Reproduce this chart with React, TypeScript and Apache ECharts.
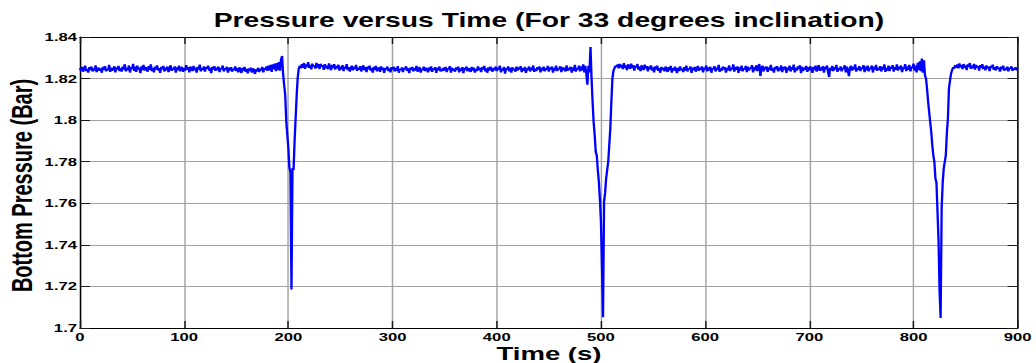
import React, { useEffect, useRef } from "react";
import * as echarts from "echarts";

// ---------------- data (pressure in bar, one sample per second) ----------------
const xTicks = [0, 100, 200, 300, 400, 500, 600, 700, 800, 900];
const yTicks = [1.7, 1.72, 1.74, 1.76, 1.78, 1.8, 1.82, 1.84];

// start time (s) of each recorded segment below
const segmentStarts = [0, 190, 212, 487, 517, 806, 843];

const baseline0to189 = [
  1.8251, 1.8238, 1.8256, 1.8233, 1.8249, 1.8262, 1.8236, 1.8247, 1.8229, 1.8255,
  1.8241, 1.8258, 1.8234, 1.825, 1.8239, 1.8264, 1.8231, 1.8246, 1.8253, 1.8237,
  1.8249, 1.8228, 1.8257, 1.8242, 1.826, 1.8235, 1.8248, 1.824, 1.8266, 1.8232,
  1.8252, 1.8238, 1.8245, 1.8259, 1.823, 1.8254, 1.8243, 1.8261, 1.8236, 1.825,
  1.8233, 1.8257, 1.8244, 1.8269, 1.8235, 1.8251, 1.824, 1.8263, 1.8229, 1.8255,
  1.8246, 1.8271, 1.8237, 1.8258, 1.8232, 1.8262, 1.8244, 1.8253, 1.8226, 1.8259,
  1.8241, 1.8266, 1.8238, 1.8255, 1.8247, 1.8233, 1.826, 1.8242, 1.8268, 1.8236,
  1.8252, 1.823, 1.8257, 1.8244, 1.8263, 1.8239, 1.825, 1.8227, 1.8256, 1.8245,
  1.8261, 1.8234, 1.8253, 1.824, 1.8258, 1.8231, 1.8249, 1.8264, 1.8237, 1.8251,
  1.8243, 1.8259, 1.8228, 1.8254, 1.8241, 1.8262, 1.8235, 1.8248, 1.8256, 1.8232,
  1.825, 1.8238, 1.8265, 1.8242, 1.8255, 1.823, 1.8258, 1.8246, 1.8236, 1.8261,
  1.824, 1.8253, 1.8229, 1.8257, 1.8244, 1.8267, 1.8235, 1.825, 1.8241, 1.8259,
  1.8233, 1.8255, 1.8247, 1.8262, 1.8238, 1.8251, 1.8226, 1.8256, 1.8243, 1.826,
  1.8237, 1.8252, 1.824, 1.8258, 1.8231, 1.8249, 1.8245, 1.8263, 1.8234, 1.825,
  1.8242, 1.8257, 1.8228, 1.8253, 1.8239, 1.8255, 1.8233, 1.8248, 1.8241, 1.8259,
  1.8236, 1.825, 1.823, 1.8254, 1.8243, 1.8227, 1.8251, 1.8238, 1.8256, 1.8232,
  1.8247, 1.8225, 1.8249, 1.8236, 1.8253, 1.8229, 1.8249, 1.824, 1.8222, 1.8246,
  1.8234, 1.8252, 1.8231, 1.8248, 1.8239, 1.8256, 1.823, 1.825, 1.8243, 1.8259,
  1.8237, 1.8262, 1.824, 1.8266, 1.8232, 1.8268, 1.8245, 1.8272, 1.8236, 1.8275,
];

const dip1 = [
  1.8241, 1.828, 1.8238, 1.8292, 1.8309, 1.822, 1.8168, 1.812, 1.7995, 1.793,
  1.7866, 1.7772, 1.775, 1.7185, 1.777, 1.776, 1.79, 1.801, 1.812, 1.8205,
  1.8248, 1.8262,
];

const baseline212to486 = [
  1.8249, 1.827, 1.8252, 1.8275, 1.8247, 1.8268, 1.8255, 1.8279,
  1.8251, 1.8266, 1.8244, 1.8272, 1.8257, 1.8263, 1.8248, 1.8276, 1.8253, 1.8269,
  1.8246, 1.8271, 1.8258, 1.8264, 1.8242, 1.827, 1.825, 1.8262, 1.8245, 1.8273,
  1.8256, 1.824, 1.8266, 1.8251, 1.8269, 1.8243, 1.8261, 1.8249, 1.8267, 1.8238,
  1.8258, 1.8244, 1.8265, 1.8236, 1.8257, 1.8248, 1.827, 1.8241, 1.8255, 1.8233,
  1.8252, 1.8262, 1.8239, 1.8256, 1.8246, 1.8266, 1.8237, 1.8253, 1.8243, 1.826,
  1.8234, 1.8251, 1.8264, 1.824, 1.8255, 1.8231, 1.8258, 1.8245, 1.8262, 1.8238,
  1.825, 1.8229, 1.8256, 1.8242, 1.8261, 1.8235, 1.8248, 1.8254, 1.8232, 1.8259,
  1.8241, 1.8253, 1.8227, 1.825, 1.8244, 1.8258, 1.8236, 1.8249, 1.823, 1.8255,
  1.8243, 1.8257, 1.8234, 1.8251, 1.8238, 1.826, 1.8228, 1.8247, 1.824, 1.8254,
  1.8231, 1.8252, 1.8245, 1.8259, 1.8237, 1.8249, 1.8226, 1.8253, 1.8242, 1.8256,
  1.8235, 1.825, 1.8239, 1.8261, 1.8233, 1.8246, 1.8255, 1.8229, 1.8248, 1.8241,
  1.8257, 1.8236, 1.8252, 1.8244, 1.823, 1.8254, 1.8238, 1.8259, 1.8232, 1.8249,
  1.8243, 1.8255, 1.8227, 1.8251, 1.824, 1.8258, 1.8234, 1.8247, 1.8236, 1.8253,
  1.8239, 1.8256, 1.8231, 1.825, 1.8245, 1.826, 1.8228, 1.8252, 1.8237, 1.8248,
  1.8233, 1.8254, 1.8242, 1.8257, 1.823, 1.8249, 1.8238, 1.8255, 1.8226, 1.8251,
  1.8241, 1.8258, 1.8235, 1.825, 1.8244, 1.8232, 1.8256, 1.8239, 1.8253, 1.8229,
  1.8247, 1.8236, 1.8259, 1.824, 1.8252, 1.8231, 1.8255, 1.8243, 1.8261, 1.8234,
  1.8249, 1.8228, 1.8254, 1.8238, 1.8257, 1.8245, 1.8233, 1.8251, 1.824, 1.8258,
  1.8236, 1.8253, 1.8242, 1.8262, 1.823, 1.8248, 1.8239, 1.8256, 1.8224, 1.825,
  1.8243, 1.8259, 1.8235, 1.8252, 1.8229, 1.8255, 1.8241, 1.8247, 1.8233, 1.8257,
  1.8238, 1.8254, 1.8244, 1.826, 1.8231, 1.825, 1.8237, 1.8256, 1.8227, 1.8249,
  1.8242, 1.8258, 1.8234, 1.8253, 1.824, 1.8263, 1.8232, 1.8248, 1.8236, 1.8255,
  1.8244, 1.8259, 1.823, 1.8252, 1.8238, 1.8257, 1.8235, 1.825, 1.8241, 1.8261,
  1.8233, 1.8254, 1.8243, 1.8258, 1.8229, 1.8251, 1.8239, 1.8262, 1.8236, 1.8248,
  1.8245, 1.8259, 1.8231, 1.8255, 1.824, 1.8253, 1.8234, 1.8264, 1.8238, 1.8251,
  1.8242, 1.8257, 1.8228, 1.8254, 1.8237, 1.8266, 1.8233, 1.825, 1.8244, 1.8262,
  1.8235, 1.8258, 1.824, 1.8268, 1.823, 1.8261, 1.8222,
];

const dip2 = [
  1.817, 1.8262, 1.823, 1.8352, 1.82, 1.8088, 1.799, 1.7928, 1.7848, 1.783,
  1.776, 1.7704, 1.762, 1.7512, 1.729, 1.7052, 1.7608, 1.765, 1.772, 1.776,
  1.78, 1.788, 1.796, 1.8088, 1.82, 1.8238, 1.825, 1.8262, 1.8256, 1.8268,
];

const baseline517to805 = [
  1.8249, 1.8271, 1.8253,
  1.8266, 1.8245, 1.8274, 1.8251, 1.8263, 1.824, 1.8269, 1.8256, 1.8247, 1.8272,
  1.825, 1.8265, 1.8238, 1.8261, 1.8254, 1.827, 1.8243, 1.8258, 1.8236, 1.8264,
  1.8252, 1.8241, 1.8267, 1.8248, 1.826, 1.8234, 1.8257, 1.8245, 1.8263, 1.8239,
  1.8254, 1.823, 1.8259, 1.8243, 1.8262, 1.8237, 1.825, 1.8228, 1.8256, 1.8241,
  1.8253, 1.8235, 1.8258, 1.8244, 1.8232, 1.8255, 1.824, 1.8261, 1.8229, 1.825,
  1.8238, 1.8257, 1.8243, 1.8226, 1.8252, 1.8236, 1.8259, 1.8241, 1.8248, 1.8231,
  1.8255, 1.8239, 1.8262, 1.8234, 1.825, 1.8245, 1.8258, 1.8227, 1.8253, 1.824,
  1.8256, 1.8233, 1.8249, 1.8261, 1.8237, 1.8252, 1.8242, 1.8259, 1.823, 1.8251,
  1.8244, 1.8263, 1.8235, 1.8254, 1.8239, 1.8257, 1.8228, 1.825, 1.8246, 1.826,
  1.8234, 1.8253, 1.8241, 1.8266, 1.8232, 1.8249, 1.8238, 1.8258, 1.8243, 1.8255,
  1.8229, 1.8252, 1.824, 1.8264, 1.8236, 1.8251, 1.8245, 1.8268, 1.8233, 1.8256,
  1.8242, 1.8259, 1.8227, 1.8254, 1.8239, 1.8262, 1.8235, 1.825, 1.8244, 1.8261,
  1.8231, 1.8257, 1.8238, 1.8253, 1.8246, 1.8265, 1.823, 1.8255, 1.824, 1.8263,
  1.8236, 1.8258, 1.827, 1.8212, 1.8251, 1.8262, 1.8234, 1.8256, 1.8243, 1.8259,
  1.8232, 1.8254, 1.8241, 1.8266, 1.8237, 1.825, 1.8229, 1.8257, 1.8245, 1.826,
  1.8235, 1.8252, 1.8239, 1.8263, 1.8231, 1.8256, 1.8244, 1.8258, 1.8227, 1.8253,
  1.824, 1.8262, 1.8234, 1.8255, 1.8242, 1.8267, 1.823, 1.8251, 1.8238, 1.8259,
  1.8246, 1.8264, 1.8226, 1.8257, 1.8236, 1.8253, 1.8243, 1.8261, 1.8232, 1.8255,
  1.8239, 1.8258, 1.8244, 1.8227, 1.8256, 1.8241, 1.8262, 1.8233, 1.825, 1.8265,
  1.8237, 1.8254, 1.824, 1.826, 1.8229, 1.8256, 1.8245, 1.8263, 1.8231, 1.8208,
  1.8252, 1.8239, 1.8261, 1.8236, 1.8255, 1.8243, 1.8266, 1.8232, 1.825, 1.8241,
  1.8259, 1.8235, 1.8253, 1.8246, 1.8264, 1.823, 1.8257, 1.824, 1.8212, 1.8252,
  1.8262, 1.8238, 1.8256, 1.8244, 1.8268, 1.8233, 1.8251, 1.8242, 1.826, 1.8236,
  1.8254, 1.8247, 1.8265, 1.8231, 1.8258, 1.824, 1.8262, 1.8235, 1.8252, 1.8245,
  1.8263, 1.8229, 1.8257, 1.8243, 1.8266, 1.8237, 1.8253, 1.8241, 1.826, 1.8234,
  1.8256, 1.8244, 1.8268, 1.8232, 1.8251, 1.8239, 1.8262, 1.8236, 1.8258, 1.8247,
  1.8265, 1.8233, 1.8255, 1.8242, 1.8269, 1.8238, 1.8257, 1.8245, 1.8263, 1.8231,
  1.8254, 1.8248, 1.827, 1.8236, 1.8259, 1.8242, 1.8266, 1.8234, 1.8257, 1.825,
  1.8272, 1.8238, 1.8262, 1.823, 1.8276, 1.8241,
];

const dip3 = [
  1.8283, 1.8235, 1.8296, 1.8228, 1.8288, 1.8215, 1.82, 1.815, 1.809, 1.804,
  1.799, 1.7944, 1.788, 1.783, 1.78, 1.772, 1.77, 1.756, 1.742, 1.7177,
  1.7048, 1.7576, 1.77, 1.7768, 1.78, 1.7832, 1.794, 1.8008, 1.8152, 1.819,
  1.8224, 1.824, 1.8255, 1.8248, 1.8264, 1.8252, 1.8268,
];

const baseline843to900 = [
  1.8249, 1.8273, 1.8255, 1.8266, 1.8245, 1.827, 1.8252,
  1.8264, 1.8241, 1.8268, 1.8256, 1.8275, 1.8247, 1.8262, 1.825, 1.8271, 1.8243,
  1.8266, 1.8254, 1.826, 1.8238, 1.8265, 1.8251, 1.8269, 1.8246, 1.8258, 1.824,
  1.8263, 1.8249, 1.8257, 1.8236, 1.8261, 1.8252, 1.8267, 1.8242, 1.8255, 1.8239,
  1.826, 1.8247, 1.8254, 1.8233, 1.8258, 1.8244, 1.8262, 1.8238, 1.8251, 1.8241,
  1.8257, 1.8235, 1.8253, 1.8246, 1.8259, 1.8237, 1.825, 1.8243, 1.8255, 1.824,
  1.8248,
];

const segments = [
  baseline0to189,
  dip1,
  baseline212to486,
  dip2,
  baseline517to805,
  dip3,
  baseline843to900,
];

const titleText = "Pressure versus Time (For 33 degrees inclination)";
const xName = "Time (s)";
const yName = "Bottom Pressure (Bar)";

// ---------------- layout ----------------
const OUT_W = 1036;
const H = 363;
const IN_W = 714; // chart drawn narrower, then stretched horizontally like the reference
const FONT = "'Liberation Sans', Arial, Helvetica, sans-serif";

export default function App() {
  const ref = useRef<HTMLDivElement>(null);

  useEffect(() => {
    if (!ref.current) return;
    const chart = echarts.init(ref.current, undefined, {
      renderer: "svg",
      width: IN_W,
      height: H,
    });

    const data: [number, number][] = [];
    segments.forEach((seg, k) => {
      seg.forEach((v, i) => data.push([segmentStarts[k] + i, v]));
    });

    const gridLeft = 55.1;
    const gridRight = 12.4;
    const plotCenter = gridLeft + (IN_W - gridLeft - gridRight) / 2;

    const fmtY = (v: number) => String(parseFloat(v.toFixed(2)));

    const tickStyle = { color: "#1a1a1a", width: 1 };
    const axisLineStyle = { color: "#000", width: 1 };

    const option: any = {
      animation: false,
      backgroundColor: "#ffffff",
      grid: { left: gridLeft, right: gridRight, top: 37, bottom: 35 },
      graphic: [
        {
          type: "text",
          x: plotCenter,
          y: 20.3,
          style: {
            text: titleText,
            fill: "#000",
            font: `bold 19.5px ${FONT}`,
            textAlign: "center",
            textVerticalAlign: "middle",
          },
        },
        {
          type: "text",
          x: plotCenter,
          y: 354,
          style: {
            text: xName,
            fill: "#000",
            font: `bold 19px ${FONT}`,
            textAlign: "center",
            textVerticalAlign: "middle",
          },
        },
        {
          type: "text",
          x: 15,
          y: 185.5,
          rotation: Math.PI / 2,
          style: {
            text: yName,
            fill: "#000",
            font: `bold 20px ${FONT}`,
            textAlign: "center",
            textVerticalAlign: "middle",
          },
        },
      ],
      xAxis: [
        {
          type: "value",
          position: "bottom",
          min: xTicks[0],
          max: xTicks[xTicks.length - 1],
          interval: 100,
          axisLine: { show: true, onZero: false, lineStyle: axisLineStyle },
          axisTick: { show: true, inside: true, length: 7, lineStyle: tickStyle },
          axisLabel: {
            show: true,
            margin: 3,
            color: "#000",
            fontSize: 11.5,
            fontWeight: "bold",
            fontFamily: FONT,
          },
          splitLine: { show: true, lineStyle: { color: "#a3a3a3", width: 1 } },
        },
        {
          type: "value",
          position: "top",
          min: xTicks[0],
          max: xTicks[xTicks.length - 1],
          interval: 100,
          axisLine: { show: true, onZero: false, lineStyle: axisLineStyle },
          axisTick: { show: true, inside: true, length: 7, lineStyle: tickStyle },
          axisLabel: { show: false },
          splitLine: { show: false },
        },
      ],
      yAxis: [
        {
          type: "value",
          position: "left",
          min: yTicks[0],
          max: yTicks[yTicks.length - 1],
          interval: 0.02,
          axisLine: { show: true, onZero: false, lineStyle: axisLineStyle },
          axisTick: { show: true, inside: true, length: 7, lineStyle: tickStyle },
          axisLabel: {
            show: true,
            margin: 2,
            color: "#000",
            fontSize: 11.5,
            fontWeight: "bold",
            fontFamily: FONT,
            formatter: fmtY,
          },
          splitLine: { show: true, lineStyle: { color: "#a3a3a3", width: 1 } },
        },
        {
          type: "value",
          position: "right",
          min: yTicks[0],
          max: yTicks[yTicks.length - 1],
          interval: 0.02,
          axisLine: { show: true, onZero: false, lineStyle: axisLineStyle },
          axisTick: { show: true, inside: true, length: 7, lineStyle: tickStyle },
          axisLabel: { show: false },
          splitLine: { show: false },
        },
      ],
      series: [
        {
          type: "line",
          name: "Bottom Pressure",
          xAxisIndex: 0,
          yAxisIndex: 0,
          data,
          showSymbol: false,
          symbol: "none",
          clip: true,
          lineStyle: { color: "#0000ff", width: 1.6 },
          z: 3,
        },
      ],
    };

    chart.setOption(option);
    return () => chart.dispose();
  }, []);

  return (
    <div
      style={{
        position: "fixed",
        left: 0,
        top: 0,
        width: OUT_W,
        height: H,
        overflow: "hidden",
        background: "#fff",
      }}
    >
      <div
        ref={ref}
        style={{
          width: IN_W,
          height: H,
          transform: `scaleX(${OUT_W / IN_W})`,
          transformOrigin: "0 0",
        }}
      />
    </div>
  );
}
